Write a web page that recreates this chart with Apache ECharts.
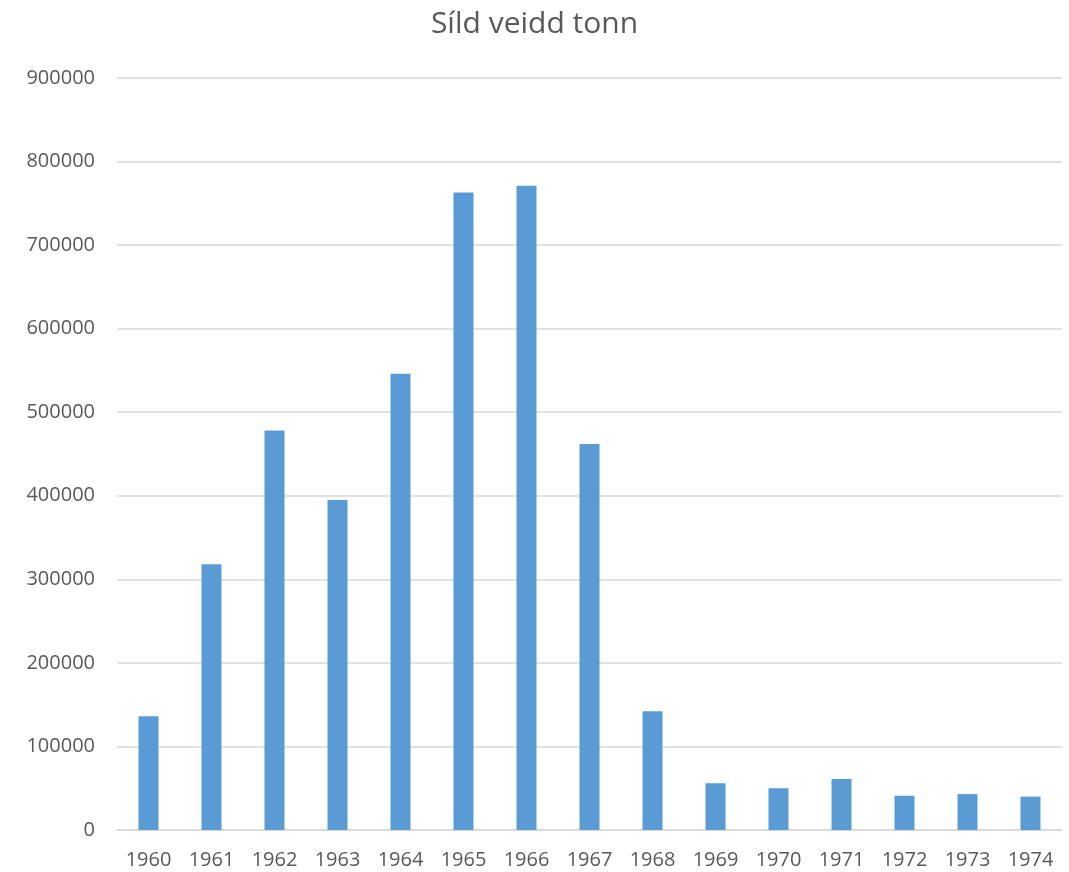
<!DOCTYPE html>
<html>
<head>
<meta charset="utf-8">
<script src="https://cdn.jsdelivr.net/npm/echarts@6/dist/echarts.min.js"></script>
<style>
  html, body { margin: 0; padding: 0; background: #fff; }
  #chart { width: 1069px; height: 872px; }
</style>
</head>
<body>
<div id="chart"></div>
<script>
const years = ["1960", "1961", "1962", "1963", "1964", "1965", "1966", "1967", "1968", "1969", "1970", "1971", "1972", "1973", "1974"];
const tonn = [136000, 318000, 478000, 395000, 546000, 763000, 771000, 462000, 142000, 56000, 50000, 61000, 41000, 43000, 40000];

const textColor = '#595959';
const fontFamily = '"Open Sans", sans-serif';

const chart = echarts.init(document.getElementById('chart'));

chart.setOption({
  backgroundColor: '#fff',
  animation: false,
  title: {
    text: 'Síld veidd tonn',
    left: 'center',
    top: 4,
    textStyle: { color: textColor, fontSize: 30, fontWeight: 'normal', fontFamily: fontFamily }
  },
  grid: { left: 117, right: 7, top: 78, bottom: 42 },
  xAxis: {
    type: 'category',
    data: years,
    axisLine: { lineStyle: { color: '#d9d9d9', width: 1.5 } },
    axisTick: { show: false },
    axisLabel: { color: textColor, fontSize: 20, fontFamily: fontFamily, margin: 20 }
  },
  yAxis: {
    type: 'value',
    min: 0,
    max: 900000,
    interval: 100000,
    axisLine: { show: false },
    axisTick: { show: false },
    splitLine: { lineStyle: { color: '#d9d9d9', width: 1.5 } },
    axisLabel: {
      color: textColor, fontSize: 20, fontFamily: fontFamily, margin: 22,
      formatter: (v) => String(v)
    }
  },
  series: [
    {
      name: 'Síld veidd tonn',
      type: 'bar',
      data: tonn,
      barWidth: 20,
      itemStyle: { color: '#5b9bd5' }
    }
  ]
});
</script>
</body>
</html>
